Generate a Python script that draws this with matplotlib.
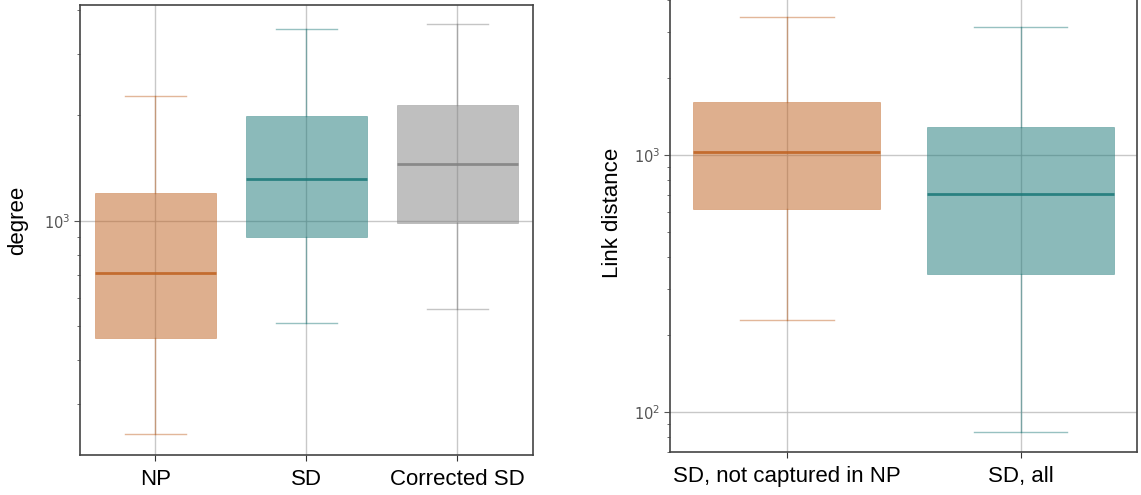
import matplotlib.pyplot as plt

# box statistics (whisker low, Q1, median, Q3, whisker high)
deg_labels = ["NP", "SD", "Corrected SD"]
deg_whislo = [245, 510, 561]
deg_q1 = [462, 898, 985]
deg_med = [710, 1318, 1455]
deg_q3 = [1198, 1995, 2145]
deg_whishi = [2267, 3529, 3648]

dist_labels = ["SD, not captured in NP", "SD, all"]
dist_whislo = [228, 83.6]
dist_q1 = [618, 344]
dist_med = [1024, 707]
dist_q3 = [1603, 1282]
dist_whishi = [3452, 3157]

orange = "#bf611f"
teal = "#197777"
gray = "#808080"

label_font = {"family": ["Liberation Sans", "DejaVu Sans"], "size": 16}


def make_stats(labels, lo, q1, med, q3, hi):
    return [dict(label=l, whislo=a, q1=b, med=c, q3=d, whishi=e)
            for l, a, b, c, d, e in zip(labels, lo, q1, med, q3, hi)]


def draw_boxes(ax, stats, colors):
    pos = list(range(len(stats)))
    bp = ax.bxp(stats, positions=pos, widths=0.8, capwidths=0.4,
                patch_artist=True, showfliers=False)
    for i, c in enumerate(colors):
        bp["boxes"][i].set(facecolor=c, alpha=0.5, edgecolor=c, linewidth=0.5)
        bp["medians"][i].set(color=c, linewidth=2, alpha=0.85)
        for ln in bp["whiskers"][2 * i:2 * i + 2] + bp["caps"][2 * i:2 * i + 2]:
            ln.set(color=c, linewidth=1, alpha=0.45)
    ax.set_xlim(-0.5, len(stats) - 0.5)
    ax.set_xticks(pos)
    ax.set_xticklabels([s["label"] for s in stats], fontdict=label_font)
    ax.set_yscale("log")
    ax.grid(True, which="major", color="#bbbbbb", linewidth=1, alpha=0.8)
    ax.set_axisbelow(True)
    ax.tick_params(axis="y", which="major", labelsize=10.5, labelcolor="#555555",
                   color="#555555", length=4, pad=3)
    ax.tick_params(axis="y", which="minor", color="#555555", length=2.5)
    ax.tick_params(axis="x", length=4, color="#333333", pad=6)
    for sp in ax.spines.values():
        sp.set_color("#444444")
        sp.set_linewidth(1.2)


fig = plt.figure(figsize=(11.41, 4.95), dpi=100)

ax1 = fig.add_axes([0.0701, 0.0808, 0.397, 0.9097])
draw_boxes(ax1, make_stats(deg_labels, deg_whislo, deg_q1, deg_med, deg_q3, deg_whishi),
           [orange, teal, gray])
ax1.set_ylim(214, 4140)
ax1.set_ylabel("degree", fontdict=label_font)
ax1.yaxis.set_label_coords(-0.115, 0.52)

ax2 = fig.add_axes([0.5872, 0.0863, 0.4096, 0.9218])
draw_boxes(ax2, make_stats(dist_labels, dist_whislo, dist_q1, dist_med, dist_q3, dist_whishi),
           [orange, teal])
ax2.set_ylim(69.7, 4157)
ax2.set_ylabel("Link distance", fontdict=label_font)
ax2.yaxis.set_label_coords(-0.1, 0.524)

fig.savefig("out.png", dpi=100)
